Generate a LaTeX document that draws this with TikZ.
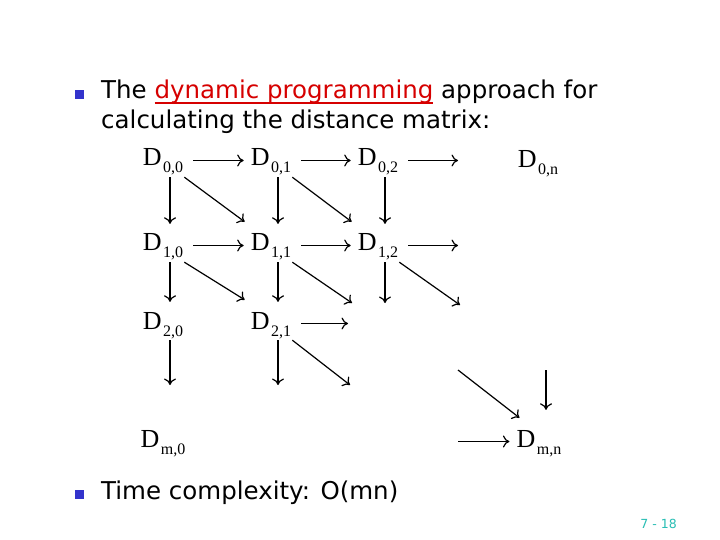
\documentclass[tikz,border=0pt]{standalone}
\usepackage{fontspec}
\setmainfont{DejaVu Sans}
\newfontfamily\dfont{Liberation Serif}
\usetikzlibrary{arrows.meta,positioning}
\definecolor{bulletblue}{RGB}{51,51,204}
\definecolor{linkred}{RGB}{214,0,0}
\definecolor{pagecyan}{RGB}{40,190,180}
\newcommand{\dm}[1]{{\dfont\fontsize{26}{26}\selectfont D\kern1.5pt\raisebox{-7pt}{\fontsize{16}{16}\selectfont #1}}}
\newcommand{\redlink}[1]{{\color{linkred}\setbox0\hbox{#1}\rlap{\color{linkred}\rule[-4.8pt]{\wd0}{1.8pt}}\box0}}
\tikzset{
  dnode/.style={inner sep=0pt, text height=17pt, text depth=6pt},
  slidetext/.style={anchor=base west, inner sep=0pt, font=\fontsize{24.5}{29}\selectfont},
  bullet/.style={fill=bulletblue, minimum size=9.5pt, inner sep=0pt},
  arr/.style={-{To[length=6.5pt,width=12pt]}, line width=1.2pt},
  hor/.style={arr, shorten <=10pt, shorten >=7pt},
  ver/.style={arr, shorten <=5pt, shorten >=10pt},
}
\begin{document}
\begin{tikzpicture}[x=1pt, y=-1pt, node distance=108pt]
  \fill[white] (0,0) rectangle (720,540);
  \useasboundingbox (0,0) rectangle (720,540);
  % bullets and text
  \node (b1) [bullet] at (79.5,94.5) {};
  \node (t1) [slidetext] at (101,99) {The \redlink{dynamic programming} approach for};
  \node (t2) [slidetext] at (101,129) {calculating the distance matrix:};
  \node (b2) [bullet] at (79.5,494.5) {};
  \node (t3) [slidetext] at (101,499) {Time complexity: O(mn)};
  \node (pg) [anchor=base east, inner sep=0pt, text=pagecyan, font=\fontsize{12.5}{15}\selectfont] at (677,528) {7 - 18};
  % the D matrix
  \node (d00) [dnode] at (163,160.5) {\dm{0,0}};
  \node (d01) [dnode, right of=d00] {\dm{0,1}};
  \node (d02) [dnode, right of=d01, node distance=107pt] {\dm{0,2}};
  \node (d0n) [dnode, right of=d02, node distance=160pt, yshift=-2pt] {\dm{0,n}};
  \node (d10) [dnode, below of=d00, node distance=85pt] {\dm{1,0}};
  \node (d11) [dnode, right of=d10] {\dm{1,1}};
  \node (d12) [dnode, right of=d11, node distance=107pt] {\dm{1,2}};
  \node (d20) [dnode, below of=d10, node distance=78pt] {\dm{2,0}};
  \node (d21) [dnode, right of=d20] {\dm{2,1}};
  \node (dm0) [dnode, below of=d20, node distance=118pt] {\dm{m,0}};
  \node (dmn) [dnode, right of=dm0, node distance=376pt] {\dm{m,n}};
  % loose ends
  \coordinate (h02) at (458,160.5);
  \coordinate (h12) at (458,245.5);
  \coordinate (h21) at (348,323.5);
  \coordinate (hmn) at (458,441.5);
  \coordinate (v12) at (385,303);
  \coordinate (v20) at (170,385);
  \coordinate (v21) at (278,385);
  \coordinate (vmn) at (546,370);
  \coordinate (g11) at (352,303);
  \coordinate (g12) at (460,305);
  \coordinate (g21) at (350,385);
  \coordinate (gmn) at (458,370);
  % arrows
  \draw[hor] (d00) -- (d01);
  \draw[hor] (d01) -- (d02);
  \draw[hor, shorten >=0pt] (d02) -- (h02);
  \draw[hor] (d10) -- (d11);
  \draw[hor] (d11) -- (d12);
  \draw[hor, shorten >=0pt] (d12) -- (h12);
  \draw[hor, shorten >=0pt] (d21) -- (h21);
  \draw[hor, shorten <=0pt] (hmn) -- (dmn);
  \draw[ver] ([xshift=7pt]d00.south) -- ([xshift=7pt]d10.north);
  \draw[ver] ([xshift=7pt]d01.south) -- ([xshift=7pt]d11.north);
  \draw[ver] ([xshift=7pt]d02.south) -- ([xshift=7pt]d12.north);
  \draw[ver] ([xshift=7pt]d10.south) -- ([xshift=7pt]d20.north);
  \draw[ver] ([xshift=7pt]d11.south) -- ([xshift=7pt]d21.north);
  \draw[ver, shorten >=0pt] ([xshift=7pt]d12.south) -- (v12);
  \draw[ver, shorten >=0pt] ([xshift=7pt]d20.south) -- (v20);
  \draw[ver, shorten >=0pt] ([xshift=7pt]d21.south) -- (v21);
  \draw[arr, shorten >=20pt] (vmn) -- ([xshift=7pt]dmn.north);
  \draw[arr] ([shift={(1,5)}]d00.south east) -- ([shift={(-6,-12)}]d11.north west);
  \draw[arr] ([shift={(1,5)}]d01.south east) -- ([shift={(-6,-12)}]d12.north west);
  \draw[arr] ([shift={(1,5)}]d10.south east) -- ([shift={(-6,-12)}]d21.north west);
  \draw[arr] ([shift={(1,5)}]d11.south east) -- (g11);
  \draw[arr] ([shift={(1,5)}]d12.south east) -- (g12);
  \draw[arr] ([shift={(1,5)}]d21.south east) -- (g21);
  \draw[arr] (gmn) -- ([shift={(3,-12)}]dmn.north west);
\end{tikzpicture}
\end{document}
